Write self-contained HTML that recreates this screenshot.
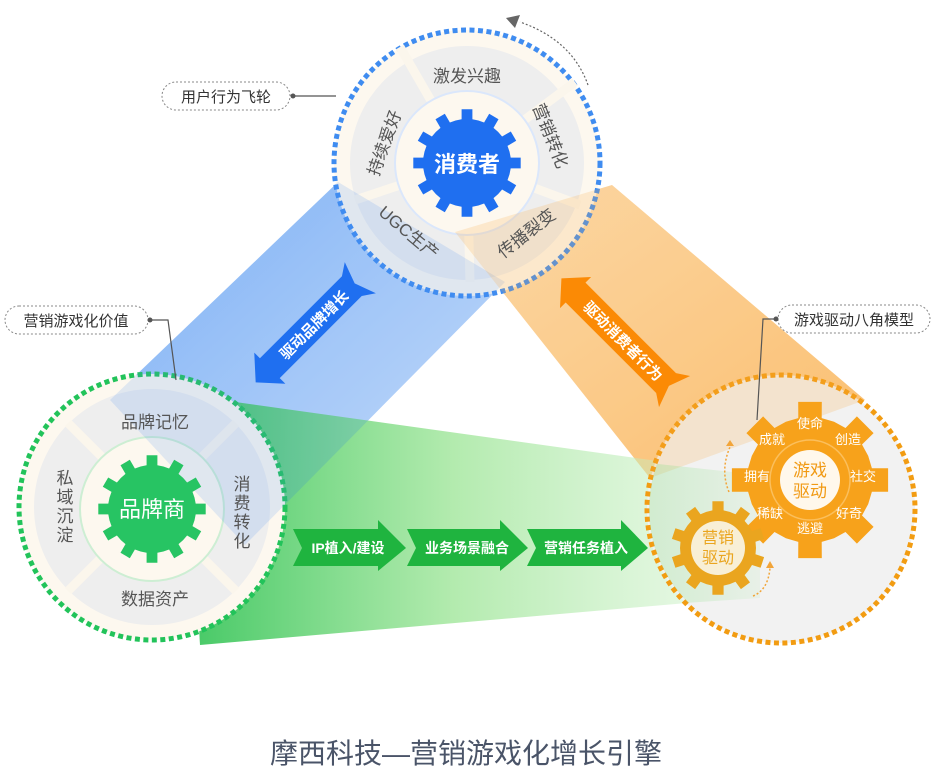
<!DOCTYPE html>
<html><head><meta charset="utf-8">
<style>
html,body{margin:0;padding:0;background:#fff;}
svg{display:block;font-family:"Liberation Sans","Noto Sans CJK SC",sans-serif;}
</style></head>
<body>
<svg id="s" width="937" height="782" viewBox="0 0 937 782" xmlns="http://www.w3.org/2000/svg">
<defs>
<linearGradient id="gb" x1="0" y1="0" x2="1" y2="1">
<stop offset="0" stop-color="#5d9ef2" stop-opacity="0.75"/>
<stop offset="1" stop-color="#c4dbfa" stop-opacity="0.6"/>
</linearGradient>
<linearGradient id="go" x1="0" y1="0" x2="1" y2="1">
<stop offset="0" stop-color="#fcdcae" stop-opacity="0.8"/>
<stop offset="1" stop-color="#fbbd6c" stop-opacity="0.9"/>
</linearGradient>
<linearGradient id="gg" x1="0" y1="0" x2="1" y2="0">
<stop offset="0" stop-color="#2fc253" stop-opacity="0.9"/>
<stop offset="0.5" stop-color="#a0e69a" stop-opacity="0.8"/>
<stop offset="1" stop-color="#dcf5d8" stop-opacity="0.6"/>
</linearGradient>
<linearGradient id="gg2" x1="0" y1="0" x2="1" y2="0">
<stop offset="0" stop-color="#8fe08a" stop-opacity="0.35"/>
<stop offset="1" stop-color="#8fe08a" stop-opacity="0.1"/>
</linearGradient>
<clipPath id="rc"><circle cx="781" cy="509" r="132"/></clipPath>
</defs>

<polygon points="338,182 505,282 245,545 110,400" fill="url(#gb)"/>
<polygon points="455,232 612,185 865,400 650,478" fill="url(#go)"/>
<polygon points="185,395 722,470 722,600 200,645" fill="url(#gg)"/>

<circle cx="467" cy="163" r="133" fill="#fdf8ef" stroke="#3f8cf0" stroke-width="5" stroke-dasharray="5 3.5"/>
<circle cx="467" cy="163" r="117" fill="#eeeeee"/>
<g stroke="#fbf6ec" stroke-width="9">
<line x1="467" y1="163" x2="400" y2="47"/>
<line x1="467" y1="163" x2="575" y2="82"/>
<line x1="467" y1="163" x2="580" y2="205"/>
<line x1="467" y1="163" x2="470" y2="282"/>
<line x1="467" y1="163" x2="355" y2="200"/>
</g>
<circle cx="467" cy="163" r="72" fill="#fdf8ef" stroke="#dbe7fb" stroke-width="2"/>

<circle cx="152" cy="507" r="133" fill="#fdf8ef" stroke="#22c35a" stroke-width="5" stroke-dasharray="5 3.5"/>
<circle cx="152" cy="507" r="118" fill="#eeeeee"/>
<g stroke="#fbf6ec" stroke-width="9">
<line x1="68" y1="423" x2="236" y2="591"/>
<line x1="236" y1="423" x2="68" y2="591"/>
</g>
<circle cx="152" cy="509" r="72" fill="#fdf8ef" stroke="#cdeed3" stroke-width="2"/>

<circle cx="781" cy="509" r="134" fill="#f2f2f2" stroke="#f29c12" stroke-width="5" stroke-dasharray="5 3.5"/>

<polygon points="338,182 505,282 245,545 110,400" fill="#4d8ff0" opacity="0.16"/>
<polygon points="455,232 612,185 865,400 650,478" fill="#f8a840" opacity="0.2"/>
<polygon clip-path="url(#rc)" points="640,462 760,475 760,598 640,606" fill="url(#gg2)"/>

<path id="g1" fill="#1f6ff0"/>
<text x="467" y="172" font-size="22" fill="#fff" text-anchor="middle" font-weight="bold">消费者</text>
<g font-size="17" fill="#555" text-anchor="middle">
<text x="467" y="82">激发兴趣</text>
<text transform="translate(545,138) rotate(68)">营销转化</text>
<text transform="translate(530,238) rotate(-38)">传播裂变</text>
<text transform="translate(405,237) rotate(40)">UGC生产</text>
<text transform="translate(390,145) rotate(-70)">持续爱好</text>
</g>

<path id="g2" fill="#27c463"/>
<text x="152" y="517" font-size="22" fill="#fff" text-anchor="middle">品牌商</text>
<g font-size="17" fill="#555" text-anchor="middle">
<text x="155" y="428">品牌记忆</text>
<text x="155" y="605">数据资产</text>
<text x="65" y="484">私</text><text x="65" y="503">域</text><text x="65" y="522">沉</text><text x="65" y="541">淀</text>
<text x="242" y="490">消</text><text x="242" y="509">费</text><text x="242" y="528">转</text><text x="242" y="547">化</text>
</g>

<path id="g3" fill="#f7a21b"/>
<circle cx="810" cy="480" r="40" fill="none" stroke="#fbbf5c" stroke-width="1.5"/>
<circle cx="810" cy="480" r="30" fill="#fff8ec"/>
<text x="810" y="476" font-size="17" fill="#f19a14" text-anchor="middle">游戏</text>
<text x="810" y="497" font-size="17" fill="#f19a14" text-anchor="middle">驱动</text>
<g font-size="13" fill="#fff" text-anchor="middle">
<text x="810" y="428">使命</text>
<text x="848" y="444">创造</text>
<text x="863" y="481">社交</text>
<text x="849" y="518">好奇</text>
<text x="810" y="533">逃避</text>
<text x="770" y="518">稀缺</text>
<text x="757" y="481">拥有</text>
<text x="772" y="444">成就</text>
</g>
<path id="g4" fill="#eaa51f"/>
<circle cx="718" cy="548" r="27" fill="#f8efd6"/>
<text x="718" y="543" font-size="16" fill="#eaa51f" text-anchor="middle">营销</text>
<text x="718" y="563" font-size="16" fill="#eaa51f" text-anchor="middle">驱动</text>
<path d="M729,492 Q720,470 730,447" fill="none" stroke="#f2a53a" stroke-width="1.5" stroke-dasharray="2 2"/>
<polygon points="726,446 734,446 730,440" fill="#f2a53a"/>
<path d="M753,596 Q768,590 770,568" fill="none" stroke="#f2a53a" stroke-width="1.5" stroke-dasharray="2 2"/>
<polygon points="766,568 774,568 770,561" fill="#f2a53a"/>

<g transform="translate(308,330) rotate(-45)">
<polygon points="-74,0 -54,-22 -54,-14 62,-14 74,-22 66,0 74,22 62,14 -54,14 -54,22" fill="#1f6ff0"/>
<text x="8" y="6" font-size="15" fill="#fff" text-anchor="middle" font-weight="bold">驱动品牌增长</text>
</g>
<g transform="translate(618,335) rotate(45)">
<polygon points="-80,0 -60,-22 -60,-14 68,-14 80,-22 72,0 80,22 68,14 -60,14 -60,22" fill="#fb8a05"/>
<text x="8" y="6" font-size="15" fill="#fff" text-anchor="middle" font-weight="bold">驱动消费者行为</text>
</g>

<g fill="#1fb43f">
<polygon points="293,529 378,529 378,520 406,548 378,571 378,566 293,566 302,548"/>
<polygon points="407,529 500,529 500,520 528,548 500,571 500,566 407,566 416,548"/>
<polygon points="527,529 621,529 621,520 648,548 621,571 621,566 527,566 536,548"/>
</g>
<g font-size="14" fill="#fff" text-anchor="middle" font-weight="bold">
<text x="348" y="553">IP植入/建设</text>
<text x="467" y="553">业务场景融合</text>
<text x="586" y="553">营销任务植入</text>
</g>

<path d="M588,85 Q572,40 520,22" fill="none" stroke="#666" stroke-width="1.2" stroke-dasharray="2 2"/>
<polygon points="506,18 520,15 515,28" fill="#666"/>

<g font-size="15" fill="#333">
<rect x="162" y="82" width="128" height="28" rx="14" fill="#fff" stroke="#888" stroke-dasharray="2 2"/>
<text x="226" y="102" text-anchor="middle">用户行为飞轮</text>
<line x1="293" y1="96" x2="336" y2="96" stroke="#555" stroke-width="1.2"/>
<circle cx="293" cy="96" r="2.5" fill="#555"/>
<rect x="5" y="306" width="143" height="28" rx="14" fill="#fff" stroke="#888" stroke-dasharray="2 2"/>
<text x="76" y="326" text-anchor="middle">营销游戏化价值</text>
<polyline points="150,320 168,320 176,380" fill="none" stroke="#555" stroke-width="1.2"/>
<circle cx="150" cy="320" r="2.5" fill="#555"/>
<rect x="778" y="305" width="152" height="28" rx="14" fill="#fff" stroke="#888" stroke-dasharray="2 2"/>
<text x="854" y="325" text-anchor="middle">游戏驱动八角模型</text>
<polyline points="776,319 763,319 757,420" fill="none" stroke="#555" stroke-width="1.2"/>
<circle cx="776" cy="319" r="2.5" fill="#555"/>
</g>

<text x="466" y="763" font-size="28" fill="#4a5468" text-anchor="middle">摩西科技—营销游戏化增长引擎</text>
</svg>
<script>
function gear(cx,cy,ro,ri,n,tw){
  var d="",step=2*Math.PI/n;
  for(var i=0;i<n;i++){
    var a=i*step-Math.PI/2;
    var pts=[[a-step/2,ri],[a-tw*0.62,ri],[a-tw*0.5,ro],[a+tw*0.5,ro],[a+tw*0.62,ri]];
    pts.forEach(function(p,j){
      var x=cx+p[1]*Math.cos(p[0]),y=cy+p[1]*Math.sin(p[0]);
      d+=(i==0&&j==0?"M":"L")+x.toFixed(1)+","+y.toFixed(1);
    });
  }
  return d+"Z";
}
document.getElementById("g1").setAttribute("d",gear(467,163,54,44,12,0.2));
document.getElementById("g2").setAttribute("d",gear(152,509,54,44,12,0.2));
document.getElementById("g3").setAttribute("d",gear(810,480,79,63,8,0.3));
document.getElementById("g4").setAttribute("d",gear(718,548,47,38,10,0.24));
</script>
</body></html>
